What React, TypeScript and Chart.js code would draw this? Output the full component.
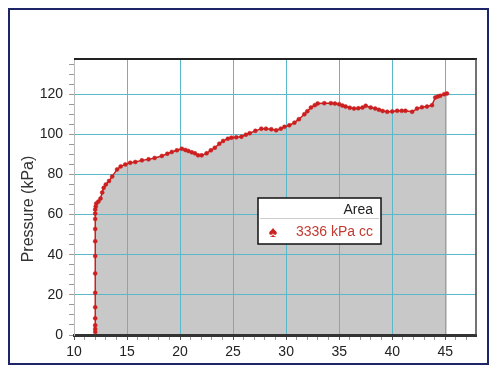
import React, { useEffect, useRef } from "react";
import { Chart, registerables } from "chart.js";

Chart.register(...registerables);

// Volume (cc) and pressure (kPa) readings
const volumeCc = [
  12.0, 12.0, 12.0, 12.0, 12.0, 12.0, 12.0, 12.0, 12.0, 12.0, 12.0, 12.0, 12.0, 12.05, 12.1, 12.3, 12.5, 12.66,
  12.8, 13.0, 13.3, 13.6, 14.06, 14.4, 14.84, 15.3, 15.78, 16.4, 17.03, 17.6, 18.28, 18.8, 19.22, 19.7, 20.16,
  20.5, 20.78, 21.1, 21.4, 21.7, 22.03, 22.5, 22.9, 23.28, 23.7, 24.06, 24.5, 24.84, 25.3, 25.78, 26.2, 26.56,
  27.1, 27.66, 28.1, 28.6, 29.06, 29.5, 29.84, 30.3, 30.78, 31.2, 31.72, 32.0, 32.34, 32.7, 32.97, 33.6, 34.22,
  34.6, 35.0, 35.3, 35.6, 36.0, 36.4, 36.8, 37.2, 37.5, 37.97, 38.4, 38.75, 39.1, 39.53, 40.0, 40.47, 40.9,
  41.25, 41.88, 42.34, 42.8, 43.28, 43.75, 44.06, 44.3, 44.53, 44.9, 45.16,
];
const pressureKpa = [
  1.5, 3, 4.8, 8.3, 13.8, 21, 30.7, 39.3, 46.7, 52.8, 57.8, 60.5, 62.5, 64, 65.5, 66.5, 68, 71,
  73.3, 75, 76.7, 79, 82.5, 84, 85, 85.8, 86.2, 87, 87.5, 88.2, 89.2, 90.3, 91.2, 92, 92.8,
  92.2, 91.7, 91, 90.5, 89.5, 89.5, 90.5, 92, 93.3, 95.3, 96.7, 97.8, 98.3, 98.5, 98.8, 99.8, 100.5,
  101.7, 102.8, 102.8, 102.5, 102, 102.8, 103.7, 104.5, 105.8, 107.5, 110, 111.5, 113.3, 114.5, 115.3, 115.5, 115.5,
  115.3, 115, 114.3, 113.8, 113.2, 112.8, 113, 113.3, 114.2, 113.3, 112.8, 112.2, 111.6, 111.2, 111.4, 111.7, 111.7,
  111.7, 111.2, 112.8, 113.5, 113.8, 114.5, 118.3, 118.8, 119.2, 120, 120.3,
];

const xTickValues = [10, 11, 12, 13, 14, 15, 16, 17, 18, 19, 20, 21, 22, 23, 24, 25, 26, 27, 28, 29, 30, 31, 32, 33, 34, 35, 36, 37, 38, 39, 40, 41, 42, 43, 44, 45, 46, 47];
const yTickValues = [0, 5, 10, 15, 20, 25, 30, 35, 40, 45, 50, 55, 60, 65, 70, 75, 80, 85, 90, 95, 100, 105, 110, 115, 120, 125, 130, 135];

const yAxisTitle = "Pressure (kPa)";
const legendHeader = "Area";
const legendSymbol = "\u2660";
const legendValue = "3336 kPa cc";

const FONT = "'Liberation Sans', Arial, sans-serif";
const RED = "#cc1f1f";
const GRID = "#5bb8c8";

const decorPlugin = {
  id: "decor",
  afterDraw(chart: any) {
    const ctx = chart.ctx;
    const a = chart.chartArea;
    ctx.save();
    // outer frame
    ctx.strokeStyle = "#1e2468";
    ctx.lineWidth = 2;
    ctx.strokeRect(9, 9, 479, 355);
    // top border
    ctx.strokeStyle = "#222";
    ctx.lineWidth = 2;
    ctx.beginPath();
    ctx.moveTo(a.left, a.top);
    ctx.lineTo(a.right + 1, a.top);
    ctx.stroke();
    // right border
    ctx.strokeStyle = "#444";
    ctx.lineWidth = 1.5;
    ctx.beginPath();
    ctx.moveTo(a.right, a.top);
    ctx.lineTo(a.right, a.bottom);
    ctx.stroke();
    // y title
    ctx.fillStyle = "#333";
    ctx.font = `16px ${FONT}`;
    ctx.textAlign = "center";
    ctx.textBaseline = "middle";
    ctx.translate(29, 209);
    ctx.rotate(-Math.PI / 2);
    ctx.fillText(yAxisTitle, 0, 0);
    ctx.restore();

    // legend box
    ctx.save();
    const bx = 258, by = 198, bw = 123, bh = 46;
    ctx.fillStyle = "#fff";
    ctx.fillRect(bx, by, bw, bh);
    ctx.strokeStyle = "#ccc";
    ctx.lineWidth = 1;
    ctx.beginPath();
    ctx.moveTo(bx + 2, by + 20.5);
    ctx.lineTo(bx + bw - 2, by + 20.5);
    ctx.stroke();
    ctx.strokeStyle = "#111";
    ctx.lineWidth = 1.5;
    ctx.strokeRect(bx, by, bw, bh);
    ctx.font = `14px ${FONT}`;
    ctx.textBaseline = "middle";
    ctx.textAlign = "right";
    ctx.fillStyle = "#222";
    ctx.fillText(legendHeader, 373, 210);
    ctx.fillStyle = "#c23a32";
    ctx.fillText(legendValue, 373, 232);
    ctx.textAlign = "center";
    ctx.fillStyle = RED;
    ctx.font = `16px ${FONT}`;
    ctx.fillText(legendSymbol, 273, 233);
    ctx.restore();
  },
};

export default function App() {
  const ref = useRef<HTMLCanvasElement>(null);
  useEffect(() => {
    const points = volumeCc.map((x, i) => ({ x, y: pressureKpa[i] }));
    const chart = new Chart(ref.current!, {
      type: "line",
      data: {
        datasets: [
          {
            data: points,
            borderColor: RED,
            borderWidth: 1.5,
            backgroundColor: "#c8c8c8",
            fill: "origin",
            pointRadius: 2,
            pointBackgroundColor: RED,
            pointBorderColor: RED,
            pointBorderWidth: 0.5,
            tension: 0,
          },
        ],
      },
      options: {
        animation: false,
        responsive: false,
        layout: { padding: { left: 0, top: 59, right: 24, bottom: 0 } },
        plugins: {
          legend: { display: false },
          tooltip: { enabled: false },
          filler: { drawTime: "beforeDraw" },
        } as any,
        scales: {
          x: {
            type: "linear",
            min: 10,
            max: 47.9,
            afterBuildTicks: (s: any) => {
              s.ticks = xTickValues.map((v) => ({ value: v }));
            },
            afterFit: (s: any) => {
              s.height = 41;
            },
            ticks: {
              autoSkip: false,
              maxRotation: 0,
              padding: 4,
              color: "#222",
              font: { family: FONT, size: 14 },
              callback: (v: any) => (Number(v) % 5 === 0 ? String(v) : ""),
            },
            grid: {
              color: (c: any) => (c.tick && c.tick.value % 5 === 0 && c.tick.value > 10 ? GRID : "rgba(0,0,0,0)"),
              tickColor: (c: any) => (c.tick && c.tick.value % 5 === 0 ? "#555" : "#999"),
              tickLength: 5,
              lineWidth: 1,
            },
            border: { color: "#333", width: 3 },
          },
          y: {
            type: "linear",
            min: 0,
            max: 137.5,
            afterBuildTicks: (s: any) => {
              s.ticks = yTickValues.map((v) => ({ value: v }));
            },
            afterFit: (s: any) => {
              s.width = 74;
            },
            ticks: {
              autoSkip: false,
              padding: 6,
              color: "#222",
              font: { family: FONT, size: 14 },
              callback: (v: any) => (Number(v) % 20 === 0 ? String(v) : ""),
            },
            grid: {
              color: (c: any) => (c.tick && c.tick.value % 20 === 0 && c.tick.value > 0 ? GRID : "rgba(0,0,0,0)"),
              tickColor: "#999",
              tickLength: 5,
              lineWidth: 1,
            },
            border: { color: "#bbb", width: 1 },
          },
        },
      },
      plugins: [decorPlugin],
    });
    return () => chart.destroy();
  }, []);
  return (
    <div style={{ position: "fixed", left: 0, top: 0, width: 500, height: 376, background: "#fff" }}>
      <canvas ref={ref} width={500} height={376} style={{ width: 500, height: 376, display: "block" }} />
    </div>
  );
}
